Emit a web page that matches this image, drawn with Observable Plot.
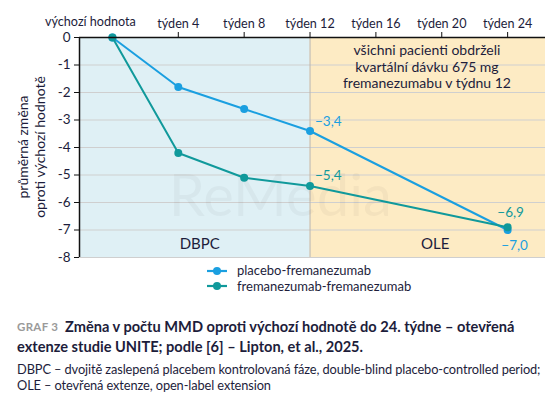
<!DOCTYPE html>
<html><head><meta charset="utf-8">
<script src="https://cdn.jsdelivr.net/npm/d3@7"></script>
<script src="https://cdn.jsdelivr.net/npm/@observablehq/plot@0.6"></script>
<style>
body{margin:0;background:#fff;font-family:Lato,sans-serif;color:#1d1d3b;}
#wrap{position:relative;width:560px;height:403px;overflow:hidden;}
#chart{position:absolute;left:0;top:0;}
.leg{position:absolute;left:206px;font-size:13px;line-height:15px;}
.leg .row{display:flex;align-items:center;height:15.5px;}
.leg svg{margin-right:9px;}
#gl{position:absolute;left:17px;top:320px;color:#9a9a9a;font-size:11.5px;font-weight:700;letter-spacing:0.3px;}
.t{position:absolute;font-weight:700;font-size:14.6px;line-height:20px;color:#1d1d3b;white-space:nowrap;}
#n{position:absolute;left:17px;top:361px;font-size:12.8px;line-height:16px;letter-spacing:-0.1px;white-space:nowrap;}
</style></head><body><div id="wrap"><div id="chart"></div>
<div class="leg" id="leg" style="top:263px"></div>
<div id="gl">GRAF 3</div>
<div class="t" style="left:65px;top:317px">Změna v počtu MMD oproti výchozí hodnotě do 24. týdne – otevřená</div>
<div class="t" style="left:17px;top:337px">extenze studie UNITE; podle [6] – Lipton, et al., 2025.</div>
<div id="n">DBPC – dvojitě zaslepená placebem kontrolovaná fáze, double-blind placebo-controlled period;<br>OLE – otevřená extenze, open-label extension</div>
</div>
<script>
const weeks = [0, 4, 8, 12, 24];
const placebo = [0, -1.8, -2.6, -3.4, -7.0];
const freman = [0, -4.2, -5.1, -5.4, -6.9];
const seriesNames = ["placebo-fremanezumab", "fremanezumab-fremanezumab"];
const colors = ["#1a9fe0", "#10999b"];
const tickWeeks = [0, 4, 8, 12, 16, 20, 24];
const tickLabels = ["výchozí hodnota", "týden 4", "týden 8", "týden 12", "týden 16", "týden 20", "týden 24"];
const yTicks = [0, -1, -2, -3, -4, -5, -6, -7, -8];
const phases = [{name: "DBPC", x1: -2, x2: 12}, {name: "OLE", x1: 12, x2: 26.3}];
const endLabels = ["−3,4", "−5,4", "−6,9", "−7,0"];
const oleNote = "všichni pacienti obdrželi\nkvartální dávku 675 mg\nfremanezumabu v týdnu 12";

const data = [];
weeks.forEach((w, i) => {
  data.push({week: w, value: placebo[i], series: seriesNames[0]});
  data.push({week: w, value: freman[i], series: seriesNames[1]});
});
const labelData = [
  {week: 12, value: placebo[3], text: endLabels[0], series: seriesNames[0], dx: 5, dy: -9, anchor: "start"},
  {week: 12, value: freman[3], text: endLabels[1], series: seriesNames[1], dx: 5, dy: -10, anchor: "start"},
  {week: 24, value: freman[4], text: endLabels[2], series: seriesNames[1], dx: 3, dy: -15, anchor: "middle"},
  {week: 24, value: placebo[4], text: endLabels[3], series: seriesNames[0], dx: 7, dy: 16, anchor: "middle"}
];
const colorOf = s => colors[seriesNames.indexOf(s)];
const fillBg = ["#dff0f5", "#fdebc4"];
const weekTicks = tickWeeks.filter(d => d !== 0);

const plot = Plot.plot({
  width: 560, height: 266,
  marginTop: 37, marginLeft: 79, marginRight: 15, marginBottom: 9,
  style: {fontFamily: "Lato, sans-serif", fontSize: "13px", color: "#1d1d3b", background: "transparent"},
  x: {domain: [-2, 26.3], axis: null},
  y: {domain: [-8, 0], axis: null},
  marks: [
    Plot.rect(phases, {x1: "x1", x2: "x2", y1: -8, y2: 0, fill: (d, i) => fillBg[i]}),
    Plot.ruleY(yTicks.filter(d => d !== 0), {stroke: "#cfcfcf", strokeWidth: 1.2}),
    Plot.ruleX([12], {y1: -8, y2: 0, stroke: "#b5b5b5", strokeWidth: 1}),
    Plot.text(["ReMedia"], {x: 10.2, y: -5.8, text: d => d, fill: "#000", fillOpacity: 0.035, fontSize: 58, fontFamily: "Lato, sans-serif"}),
    Plot.text(phases, {x: d => d.name === "DBPC" ? 5.3 : 19.6, y: -7.5, text: "name", fontSize: 15, fill: "#1d1d3b"}),
    Plot.text([oleNote], {x: 19.1, y: -1.05, text: d => d, fontSize: 14, lineHeight: 1.18, fill: "#1d1d3b"}),
    Plot.line(data, {x: "week", y: "value", z: "series", stroke: d => colorOf(d.series), strokeWidth: 2}),
    Plot.dot(data, {x: "week", y: "value", fill: d => colorOf(d.series), r: 4}),
    ...labelData.map(l => Plot.text([l], {x: "week", y: "value", text: "text", fill: colorOf(l.series), dx: l.dx, dy: l.dy, textAnchor: l.anchor, fontSize: 13.5})),
    Plot.ruleY([0], {x1: -2, x2: 26.3, stroke: "#111", strokeWidth: 1.5}),
    Plot.ruleX([-2], {y1: -8, y2: 0, stroke: "#111", strokeWidth: 1.5}),
    Plot.axisX(weekTicks, {anchor: "top", label: null, tickSize: 6, tickPadding: 4, tickFormat: (d) => tickLabels[tickWeeks.indexOf(d)], stroke: "#111", fill: "#1d1d3b", fontSize: 12.6}),
    Plot.text([tickLabels[0]], {x: tickWeeks[0], y: 0, text: d => d, lineAnchor: "bottom", dy: -12, dx: -22, fill: "#1d1d3b", fontSize: 12.6}),
    Plot.axisY(yTicks, {anchor: "left", label: null, tickSize: 5, tickPadding: 4, tickFormat: d => String(d), stroke: "#111", fill: "#1d1d3b", fontSize: 13.5})
  ]
});
document.getElementById("chart").appendChild(plot);

// y-axis title
const svg = d3.select(plot);
[["průměrná změna", 24], ["oproti výchozí hodnotě", 41]].forEach(([t, x]) => {
  svg.append("text").attr("transform", `translate(${x},147) rotate(-90)`)
    .attr("text-anchor", "middle").attr("dominant-baseline", "middle")
    .attr("font-size", 14).attr("fill", "#1d1d3b").attr("font-family", "Lato, sans-serif").text(t);
});

// legend
const leg = d3.select("#leg");
seriesNames.forEach((s, i) => {
  const row = leg.append("div").attr("class", "row");
  const sv = row.append("svg").attr("width", 22).attr("height", 12);
  sv.append("line").attr("x1", 1).attr("x2", 21).attr("y1", 6).attr("y2", 6).attr("stroke", colors[i]).attr("stroke-width", 2.2);
  sv.append("circle").attr("cx", 11).attr("cy", 6).attr("r", 4).attr("fill", colors[i]);
  row.append("span").text(s);
});
</script></body></html>
